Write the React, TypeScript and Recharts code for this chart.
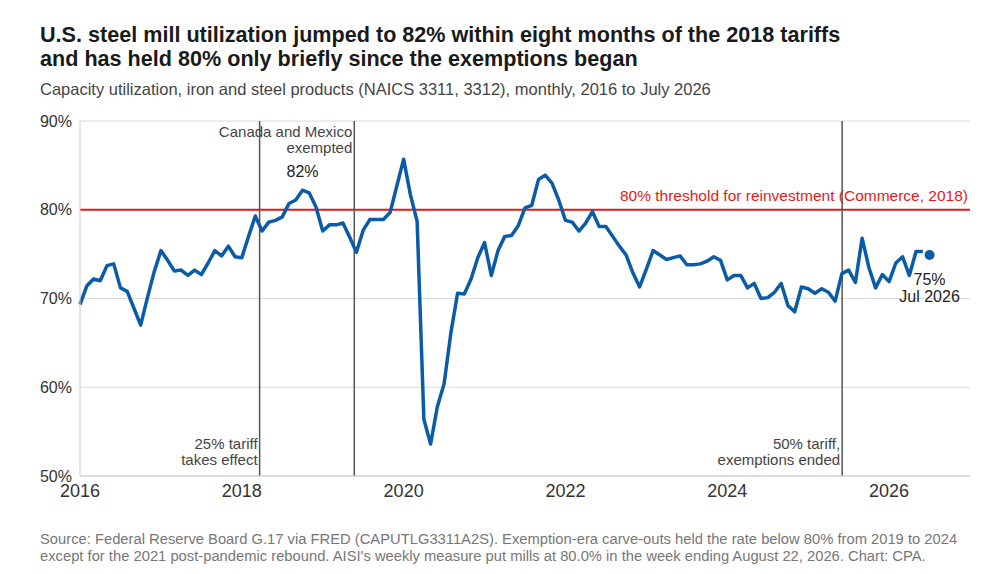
import {
  CartesianGrid,
  LabelList,
  Line,
  LineChart,
  ReferenceLine,
  XAxis,
  YAxis,
} from "recharts";

// Monthly capacity utilization, Jan 2016 .. Jun 2026 (%)
const utilization = [
  69.3, 71.4, 72.2, 72.0, 73.7, 73.9, 71.2, 70.8, 68.9, 67.0, 70.1, 73.0,
  75.4, 74.3, 73.1, 73.2, 72.6, 73.2, 72.7, 74.0, 75.4, 74.8, 75.9, 74.7,
  74.6, 77.0, 79.3, 77.6, 78.6, 78.8, 79.2, 80.7, 81.1, 82.2, 81.9, 80.3,
  77.6, 78.3, 78.3, 78.5, 76.9, 75.2, 77.7, 78.9, 78.9, 78.9, 79.7, 82.7,
  85.7, 81.7, 78.7, 56.4, 53.6, 57.8, 60.4, 66.1, 70.6, 70.5, 72.2, 74.6,
  76.3, 72.6, 75.4, 77.0, 77.1, 78.2, 80.2, 80.5, 83.4, 83.9, 83.0, 81.1,
  78.8, 78.6, 77.6, 78.5, 79.8, 78.1, 78.1, 77.0, 75.9, 74.9, 72.9, 71.3,
  73.3, 75.4, 74.9, 74.4, 74.6, 74.8, 73.8, 73.8, 73.9, 74.2, 74.7, 74.3,
  72.1, 72.6, 72.6, 71.2, 71.7, 70.0, 70.1, 70.7, 71.7, 69.2, 68.5, 71.3,
  71.1, 70.6, 71.1, 70.7, 69.7, 72.8, 73.2, 71.8, 76.8, 73.5, 71.2, 72.7,
  71.9, 74.0, 74.7, 72.6, 75.3, 75.3,
];

// Latest (preliminary) month, drawn as a lone dot
const latestValue = 74.9;
const latestLabel = "Jul 2026";

const yearTicks = [2016, 2018, 2020, 2022, 2024, 2026];
const percentTicks = [50, 60, 70, 80, 90];
const threshold = 80;

// Policy dates as decimal years
const tariffStart = 2018.22;
const canadaMexicoExempt = 2019.39;
const exemptionsEnded = 2025.42;

const FONT = '"Liberation Sans", Arial, sans-serif';
const BLUE = "#0a5ca8";
const RED = "#e31a1c";

const chartData = [
  ...utilization.map((value, i) => ({ t: 2016 + i / 12, value })),
  { t: 2016 + utilization.length / 12, latest: latestValue },
];

// post-tariff peak (within the first year after March 2018)
const peakIndex = (() => {
  let best = 26;
  for (let i = 26; i < 40; i++) if (utilization[i] > utilization[best]) best = i;
  return best;
})();

function EventLabel(props: any) {
  const { viewBox, lines, atTop } = props;
  if (!viewBox) return null;
  const x = viewBox.x - 2;
  const first = atTop ? viewBox.y + 16 : viewBox.y + viewBox.height - 27;
  return (
    <text x={x} y={first} textAnchor="end" fontSize={15} fill="#444" fontFamily={FONT}>
      {lines.map((line: string, i: number) => (
        <tspan key={line} x={x} dy={i === 0 ? 0 : 15.5}>
          {line}
        </tspan>
      ))}
    </text>
  );
}

function ThresholdLabel(props: any) {
  const { viewBox } = props;
  if (!viewBox) return null;
  return (
    <text
      x={viewBox.x + viewBox.width - 2}
      y={viewBox.y - 9}
      textAnchor="end"
      fontSize={15.5}
      fill={RED}
      fontFamily={FONT}
    >
      80% threshold for reinvestment (Commerce, 2018)
    </text>
  );
}

function PeakLabel(props: any) {
  const { x, y, index, value } = props;
  if (index !== peakIndex) return null;
  return (
    <text x={x} y={y - 13.5} textAnchor="middle" fontSize={16} fill="#222" fontFamily={FONT}>
      {Math.round(value)}%
    </text>
  );
}

function LatestLabel(props: any) {
  const { x, y, value } = props;
  if (value == null) return null;
  return (
    <text x={x} y={y + 30} textAnchor="middle" fontSize={16} fill="#222" fontFamily={FONT}>
      <tspan x={x}>{Math.round(value)}%</tspan>
      <tspan x={x} dy={17}>
        {latestLabel}
      </tspan>
    </text>
  );
}

export default function App() {
  return (
    <div
      style={{
        position: "absolute",
        top: 0,
        left: 0,
        width: 1000,
        height: 574,
        background: "#fff",
        fontFamily: FONT,
        overflow: "hidden",
      }}
    >
      <div
        style={{
          position: "absolute",
          left: 40,
          top: 23,
          fontSize: 21.6,
          lineHeight: "24px",
          fontWeight: 700,
          color: "#1a1a1a",
        }}
      >
        U.S. steel mill utilization jumped to 82% within eight months of the 2018 tariffs
        <br />
        and has held 80% only briefly since the exemptions began
      </div>
      <div style={{ position: "absolute", left: 40, top: 80, fontSize: 16.5, color: "#444" }}>
        Capacity utilization, iron and steel products (NAICS 3311, 3312), monthly, 2016 to July 2026
      </div>

      <div style={{ position: "absolute", left: 0, top: 0 }}>
        <LineChart
          width={1000}
          height={574}
          data={chartData}
          margin={{ top: 121, right: 30, bottom: 68, left: 40 }}
        >
          <CartesianGrid vertical={false} stroke="#dcdcdc" />
          <XAxis
            dataKey="t"
            type="number"
            domain={[2016, 2027]}
            ticks={yearTicks}
            tickLine={false}
            axisLine={{ stroke: "#cccccc" }}
            height={30}
            tick={{ fontSize: 18, fill: "#333", fontFamily: FONT }}
          />
          <YAxis
            type="number"
            domain={[50, 90]}
            ticks={percentTicks}
            tickFormatter={(v) => `${v}%`}
            tickLine={false}
            axisLine={{ stroke: "#cccccc" }}
            width={40}
            tick={{ fontSize: 16, fill: "#333", fontFamily: FONT }}
          />
          <ReferenceLine
            y={threshold}
            stroke={RED}
            strokeWidth={2}
            label={(p: any) => <ThresholdLabel {...p} />}
          />
          <ReferenceLine
            x={tariffStart}
            stroke="#555"
            strokeWidth={1.5}
            label={(p: any) => <EventLabel {...p} lines={["25% tariff", "takes effect"]} />}
          />
          <ReferenceLine
            x={canadaMexicoExempt}
            stroke="#555"
            strokeWidth={1.5}
            label={(p: any) => (
              <EventLabel {...p} atTop lines={["Canada and Mexico", "exempted"]} />
            )}
          />
          <ReferenceLine
            x={exemptionsEnded}
            stroke="#555"
            strokeWidth={1.5}
            label={(p: any) => (
              <EventLabel {...p} lines={["50% tariff,", "exemptions ended"]} />
            )}
          />
          <Line
            dataKey="value"
            stroke={BLUE}
            strokeWidth={3.5}
            dot={false}
            isAnimationActive={false}
            strokeLinejoin="round"
          >
            <LabelList dataKey="value" content={(p: any) => <PeakLabel {...p} />} />
          </Line>
          <Line
            dataKey="latest"
            stroke={BLUE}
            strokeWidth={0}
            dot={{ r: 5, fill: BLUE, stroke: BLUE, strokeWidth: 0 }}
            isAnimationActive={false}
          >
            <LabelList dataKey="latest" content={(p: any) => <LatestLabel {...p} />} />
          </Line>
        </LineChart>
      </div>

      <div
        style={{
          position: "absolute",
          left: 40,
          top: 531,
          fontSize: 14.75,
          lineHeight: "16.5px",
          color: "#777",
        }}
      >
        Source: Federal Reserve Board G.17 via FRED (CAPUTLG3311A2S). Exemption-era carve-outs held the rate below 80% from 2019 to 2024
        <br />
        except for the 2021 post-pandemic rebound. AISI's weekly measure put mills at 80.0% in the week ending August 22, 2026. Chart: CPA.
      </div>
    </div>
  );
}
